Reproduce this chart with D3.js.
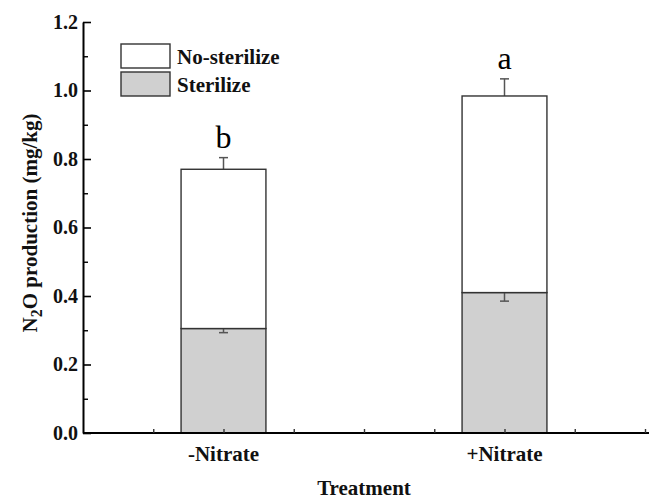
<!DOCTYPE html>
<html>
<head>
<meta charset="utf-8">
<script src="https://cdn.jsdelivr.net/npm/d3@7/dist/d3.min.js"></script>
<style>
  html, body { margin: 0; padding: 0; background: #fff; }
  svg { display: block; }
  text { font-family: "Liberation Serif", "Times New Roman", serif; }
</style>
</head>
<body>
<svg id="chart" width="649" height="500"></svg>
<script>
// Treatments and their x positions on the numeric axis
const treatments = ["-Nitrate", "+Nitrate"];
const positions = [1, 2];
// Stacked segments (mg/kg)
const sterilize = [0.305, 0.41];
const sterilizeErr = [0.012, 0.025];
const noSterilize = [0.465, 0.574];
const totalErr = [0.034, 0.05];
const letters = ["b", "a"];
const yTicks = [0, 0.2, 0.4, 0.6, 0.8, 1.0, 1.2];
const yMinor = [0.1, 0.3, 0.5, 0.7, 0.9, 1.1];
const xMinor = [0.75, 1, 1.25, 1.5, 1.75, 2, 2.25, 2.5];

const svg = d3.select("#chart");
const x = d3.scaleLinear().domain([0.5, 2.5]).range([83, 645]);
const y = d3.scaleLinear().domain([0, 1.2]).range([433, 22]);
const halfW = 0.151;

const fillGray = "#d0d0d0";
const barStroke = "#333";
const errColor = "#555";

// Sterilize (bottom) bars
svg.selectAll("rect.ster").data(positions).join("rect")
  .attr("class", "ster")
  .attr("x", d => x(d - halfW))
  .attr("width", d => x(d + halfW) - x(d - halfW))
  .attr("y", (d, i) => y(sterilize[i]))
  .attr("height", (d, i) => y(0) - y(sterilize[i]))
  .attr("fill", fillGray).attr("stroke", barStroke).attr("stroke-width", 1.4);

// Error bars (the parts inside the upper bars get covered by them)
function errBars(cls, centers, err) {
  const g = svg.append("g").attr("class", cls);
  positions.forEach((p, i) => {
    const cx = x(p);
    const c = centers[i];
    g.append("line").attr("x1", cx).attr("x2", cx)
      .attr("y1", y(c - err[i])).attr("y2", y(c + err[i]))
      .attr("stroke", errColor).attr("stroke-width", 1.5);
    [c - err[i], c + err[i]].forEach(v => {
      g.append("line").attr("x1", cx - 4.5).attr("x2", cx + 4.5)
        .attr("y1", y(v)).attr("y2", y(v))
        .attr("stroke", errColor).attr("stroke-width", 1.5);
    });
  });
}
errBars("err-ster", sterilize, sterilizeErr);
const totals = sterilize.map((s, i) => s + noSterilize[i]);
errBars("err-total", totals, totalErr);

// No-sterilize (top) bars
svg.selectAll("rect.nost").data(positions).join("rect")
  .attr("class", "nost")
  .attr("x", d => x(d - halfW))
  .attr("width", d => x(d + halfW) - x(d - halfW))
  .attr("y", (d, i) => y(totals[i]))
  .attr("height", (d, i) => y(sterilize[i]) - y(totals[i]))
  .attr("fill", "#fff").attr("stroke", barStroke).attr("stroke-width", 1.4);

// Significance letters
svg.selectAll("text.sig").data(positions).join("text")
  .attr("class", "sig")
  .attr("x", d => x(d))
  .attr("y", (d, i) => y(totals[i] + totalErr[i]) - 10)
  .attr("text-anchor", "middle")
  .attr("font-size", 32)
  .text((d, i) => letters[i]);

// Y axis
const yAxis = d3.axisLeft(y).tickValues(yTicks)
  .tickFormat(d3.format(".1f")).tickSizeInner(-8).tickSizeOuter(0).tickPadding(5);
const gy = svg.append("g").attr("transform", "translate(83,0)").call(yAxis);
gy.select(".domain").attr("stroke", "#000").attr("stroke-width", 2);
gy.selectAll(".tick line").attr("stroke", "#000").attr("stroke-width", 1.6);
gy.selectAll(".tick text").attr("font-size", 20).attr("font-weight", "bold")
  .attr("fill", "#111").attr("font-family", "Liberation Serif, serif");
const yMinorAxis = d3.axisLeft(y).tickValues(yMinor).tickFormat("")
  .tickSizeInner(-5).tickSizeOuter(0);
const gym = svg.append("g").attr("transform", "translate(83,0)").call(yMinorAxis);
gym.select(".domain").remove();
gym.selectAll(".tick line").attr("stroke", "#000").attr("stroke-width", 1.4);

// X axis (extends to the right edge)
const xAxis = d3.axisBottom(x).tickValues(xMinor).tickFormat("")
  .tickSizeInner(-4).tickSizeOuter(0);
const gx = svg.append("g").attr("transform", "translate(0,433)").call(xAxis);
gx.select(".domain").attr("stroke", "#000").attr("stroke-width", 2)
  .attr("d", `M${x(0.5)},0H649`);
gx.selectAll(".tick line").attr("stroke", "#333").attr("stroke-width", 1.4);

svg.selectAll("text.cat").data(positions).join("text")
  .attr("class", "cat")
  .attr("x", d => x(d)).attr("y", 461)
  .attr("text-anchor", "middle")
  .attr("font-size", 21).attr("font-weight", "bold").attr("fill", "#111")
  .text((d, i) => treatments[i]);

svg.append("text")
  .attr("x", 364).attr("y", 495)
  .attr("text-anchor", "middle")
  .attr("font-size", 21).attr("font-weight", "bold").attr("fill", "#111")
  .text("Treatment");

// Y axis title with subscript
const yt = svg.append("text")
  .attr("transform", "translate(37,223) rotate(-90)")
  .attr("text-anchor", "middle")
  .attr("font-size", 21).attr("font-weight", "bold").attr("fill", "#111");
yt.append("tspan").text("N");
yt.append("tspan").attr("dy", 5).attr("font-size", 16).text("2");
yt.append("tspan").attr("dy", -5).text("O production (mg/kg)");

// Legend
const legend = [
  { label: "No-sterilize", fill: "#fff" },
  { label: "Sterilize", fill: fillGray }
];
const lg = svg.append("g");
legend.forEach((d, i) => {
  lg.append("rect").attr("x", 121).attr("y", 44 + i * 28)
    .attr("width", 49).attr("height", 24)
    .attr("fill", d.fill).attr("stroke", barStroke).attr("stroke-width", 1.4);
  lg.append("text").attr("x", 177).attr("y", 64 + i * 28)
    .attr("font-size", 21).attr("font-weight", "bold").attr("fill", "#111")
    .text(d.label);
});
</script>
</body>
</html>
